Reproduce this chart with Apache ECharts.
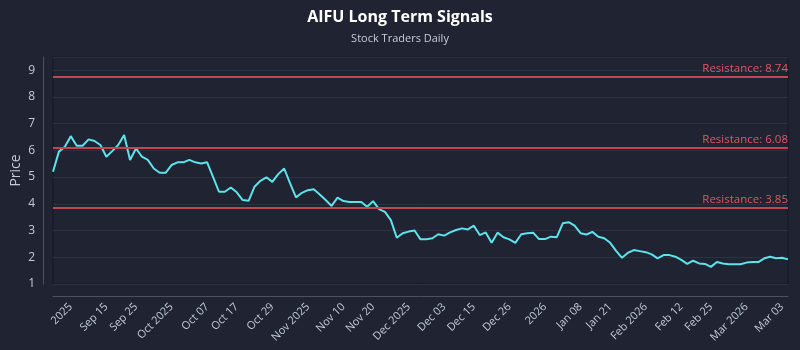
<!DOCTYPE html>
<html>
<head>
<meta charset="utf-8">
<script src="https://cdn.jsdelivr.net/npm/echarts@6/dist/echarts.min.js"></script>
<style>
  html, body { margin: 0; padding: 0; background: #1f2332; }
  #chart { width: 800px; height: 350px; }
</style>
</head>
<body>
<div id="chart"></div>
<script>
// ---- data ----
const titleText = 'AIFU Long Term Signals';
const subtitleText = 'Stock Traders Daily';

const prices = [
  5.20,5.95,6.13,6.53,6.17,6.17,6.41,6.35,6.20,5.76,
  5.97,6.20,6.57,5.64,6.07,5.76,5.64,5.32,5.16,5.16,
  5.45,5.55,5.55,5.64,5.55,5.51,5.55,5.01,4.45,4.45,
  4.61,4.43,4.14,4.11,4.64,4.86,4.99,4.82,5.11,5.32,
  4.76,4.24,4.41,4.51,4.54,4.35,4.14,3.92,4.23,4.10,
  4.07,4.07,4.07,3.89,4.10,3.80,3.70,3.39,2.73,2.90,
  2.96,3.00,2.67,2.67,2.71,2.86,2.81,2.93,3.02,3.08,
  3.04,3.18,2.83,2.93,2.54,2.92,2.75,2.67,2.54,2.86,
  2.90,2.92,2.68,2.68,2.77,2.75,3.27,3.31,3.18,2.90,
  2.85,2.95,2.77,2.71,2.54,2.24,1.98,2.17,2.27,2.23,
  2.19,2.11,1.96,2.08,2.08,2.02,1.90,1.75,1.87,1.77,
  1.75,1.64,1.82,1.77,1.74,1.74,1.74,1.80,1.82,1.82,
  1.96,2.02,1.96,1.98,1.92
];

const resistanceLevels = [8.74, 6.08, 3.85];

const tickLabels = ['2025','Sep 15','Sep 25','Oct 2025','Oct 07','Oct 17','Oct 29','Nov 2025','Nov 10','Nov 20',
  'Dec 2025','Dec 03','Dec 15','Dec 26','2026','Jan 08','Jan 21','Feb 2026','Feb 12','Feb 25','Mar 2026','Mar 03'];
const tickIndex = [3,9,14,20,26,31,37,43,49,54,60,66,71,77,83,89,94,100,106,111,117,123];

// trading-day categories (one per price)
const holidays = ['2025-11-27','2025-12-25','2026-01-01','2026-01-19','2026-02-16'];
const categories = (function () {
  const out = [];
  const d = new Date(Date.UTC(2026, 2, 5));
  while (out.length < prices.length) {
    const wd = d.getUTCDay();
    const s = d.toISOString().slice(0, 10);
    if (wd !== 0 && wd !== 6 && holidays.indexOf(s) < 0) out.unshift(s);
    d.setUTCDate(d.getUTCDate() - 1);
  }
  return out;
})();

// ---- chart ----
const chart = echarts.init(document.getElementById('chart'), null, { renderer: 'canvas' });
const FONT = '"Open Sans", "Noto Sans", sans-serif';

chart.setOption({
  backgroundColor: '#1f2332',
  animation: false,
  title: {
    text: titleText,
    subtext: subtitleText,
    left: 'center',
    top: 4,
    itemGap: 8,
    textStyle: { color: '#ffffff', fontSize: 16, fontWeight: 'bold', fontFamily: FONT },
    subtextStyle: { color: '#c9cdd8', fontSize: 11, fontFamily: FONT }
  },
  grid: {
    left: 53, right: 12, top: 57, bottom: 66,
    containLabel: false,
    outerBoundsMode: 'none',
    show: true,
    borderColor: '#141823',
    borderWidth: 1,
    backgroundColor: 'transparent'
  },
  xAxis: {
    type: 'category',
    data: categories,
    boundaryGap: false,
    offset: 12,
    axisLine: { show: true, lineStyle: { color: '#4a5163', width: 1 } },
    axisTick: { show: false },
    splitLine: { show: false },
    axisLabel: {
      rotate: 45,
      margin: 9,
      color: '#c3cad8',
      fontSize: 11,
      fontFamily: FONT,
      interval: function (idx) { return tickIndex.indexOf(idx) >= 0; },
      formatter: function (val, idx) {
        const k = tickIndex.indexOf(idx);
        return k >= 0 ? tickLabels[k] : '';
      }
    }
  },
  yAxis: {
    type: 'value',
    min: 1,
    max: 9.49,
    interval: 1,
    offset: 10,
    name: 'Price',
    nameLocation: 'middle',
    nameGap: 20,
    nameMoveOverlap: false,
    nameTextStyle: { color: '#c3cad8', fontSize: 14, fontFamily: FONT },
    axisLine: { show: true, lineStyle: { color: '#4a5163', width: 1 } },
    axisTick: { show: false },
    axisLabel: {
      color: '#c3cad8', fontSize: 12, fontFamily: FONT, margin: 8,
      showMaxLabel: false,
      formatter: function (v) { return Number.isInteger(v) ? String(v) : ''; }
    },
    splitLine: { show: true, lineStyle: { color: '#2b3142', width: 1 } }
  },
  series: [{
    type: 'line',
    data: prices,
    symbol: 'none',
    lineStyle: { color: '#5de3ea', width: 2 },
    z: 3,
    markLine: {
      silent: true,
      symbol: 'none',
      lineStyle: { color: '#c1464f', width: 2, type: 'solid' },
      label: {
        position: 'insideEndTop',
        distance: [0, 2],
        color: '#e0595f',
        fontSize: 11.5,
        fontFamily: FONT,
        formatter: function (p) { return 'Resistance: ' + p.value.toFixed(2); }
      },
      data: resistanceLevels.map(function (v) { return { yAxis: v }; })
    }
  }]
});
</script>
</body>
</html>
